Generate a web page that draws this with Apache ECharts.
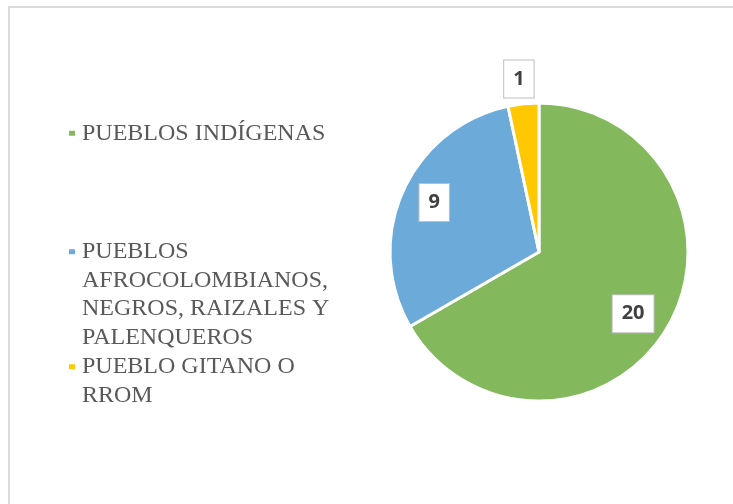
<!DOCTYPE html>
<html>
<head>
<meta charset="utf-8">
<script src="https://cdn.jsdelivr.net/npm/echarts@6/dist/echarts.min.js"></script>
<style>
  html, body { margin: 0; padding: 0; background: #fff; }
  #chart { width: 733px; height: 504px; }
</style>
</head>
<body>
<div id="chart"></div>
<script>
// categorias y valores
var categories = ['PUEBLOS INDÍGENAS', 'PUEBLOS AFROCOLOMBIANOS, NEGROS, RAIZALES Y PALENQUEROS', 'PUEBLO GITANO O RROM'];
var legendLines = [
  ['PUEBLOS INDÍGENAS'],
  ['PUEBLOS', 'AFROCOLOMBIANOS,', 'NEGROS, RAIZALES Y', 'PALENQUEROS'],
  ['PUEBLO GITANO O', 'RROM']
];
var values = [20, 9, 1];
var colors = ['#83b95c', '#6caada', '#ffc800'];

var myChart = echarts.init(document.getElementById('chart'));

var LH = 28.5;
// una leyenda por elemento, el espaciado de Excel no es uniforme
var legendTops = [119, 152, 324];
var legends = [];
for (var i = 0; i < categories.length; i++) {
  legends.push({
    data: [categories[i]],
    orient: 'vertical',
    left: 67,
    top: legendTops[i],
    padding: 0,
    itemWidth: 8,
    itemHeight: 7,
    icon: 'rect',
    formatter: function (name) {
      var lines = legendLines[categories.indexOf(name)];
      // lineas vacias arriba para que el marcador quede en la primera linea
      var pad = '';
      for (var k = 1; k < lines.length; k++) pad += '\n';
      return pad + lines.map(function (l) { return '{t|' + l + '}'; }).join('\n');
    },
    textStyle: {
      fontFamily: 'Liberation Serif',
      fontSize: 24,
      lineHeight: LH,
      color: '#595959',
      rich: {
        t: { padding: [0, 0, 0, 1], lineHeight: LH }
      }
    }
  });
}

var labelOffsets = [[27, 23], [-34, -18], [-12, -96]];
var pieData = [];
for (var j = 0; j < categories.length; j++) {
  pieData.push({
    name: categories[j],
    value: values[j],
    itemStyle: { color: colors[j] },
    label: { offset: labelOffsets[j] }
  });
}

myChart.setOption({
  animation: false,
  legend: legends,
  graphic: [{
    type: 'rect',
    shape: { x: 9, y: 7, width: 760, height: 540 },
    style: { fill: 'none', stroke: '#dadada', lineWidth: 2 },
    silent: true
  }],
  series: [{
    type: 'pie',
    center: [539, 252],
    radius: 149,
    startAngle: 90,
    clockwise: true,
    itemStyle: { borderColor: '#fff', borderWidth: 3 },
    label: {
      show: true,
      position: 'inside',
      formatter: '{c}',
      fontFamily: 'Open Sans',
      fontWeight: 'bold',
      fontSize: 20,
      lineHeight: 21,
      color: '#404040',
      backgroundColor: '#fff',
      borderColor: '#bfbfbf',
      borderWidth: 1,
      padding: [8, 9]
    },
    labelLine: { show: false },
    emphasis: { disabled: true },
    data: pieData
  }]
});
</script>
</body>
</html>
